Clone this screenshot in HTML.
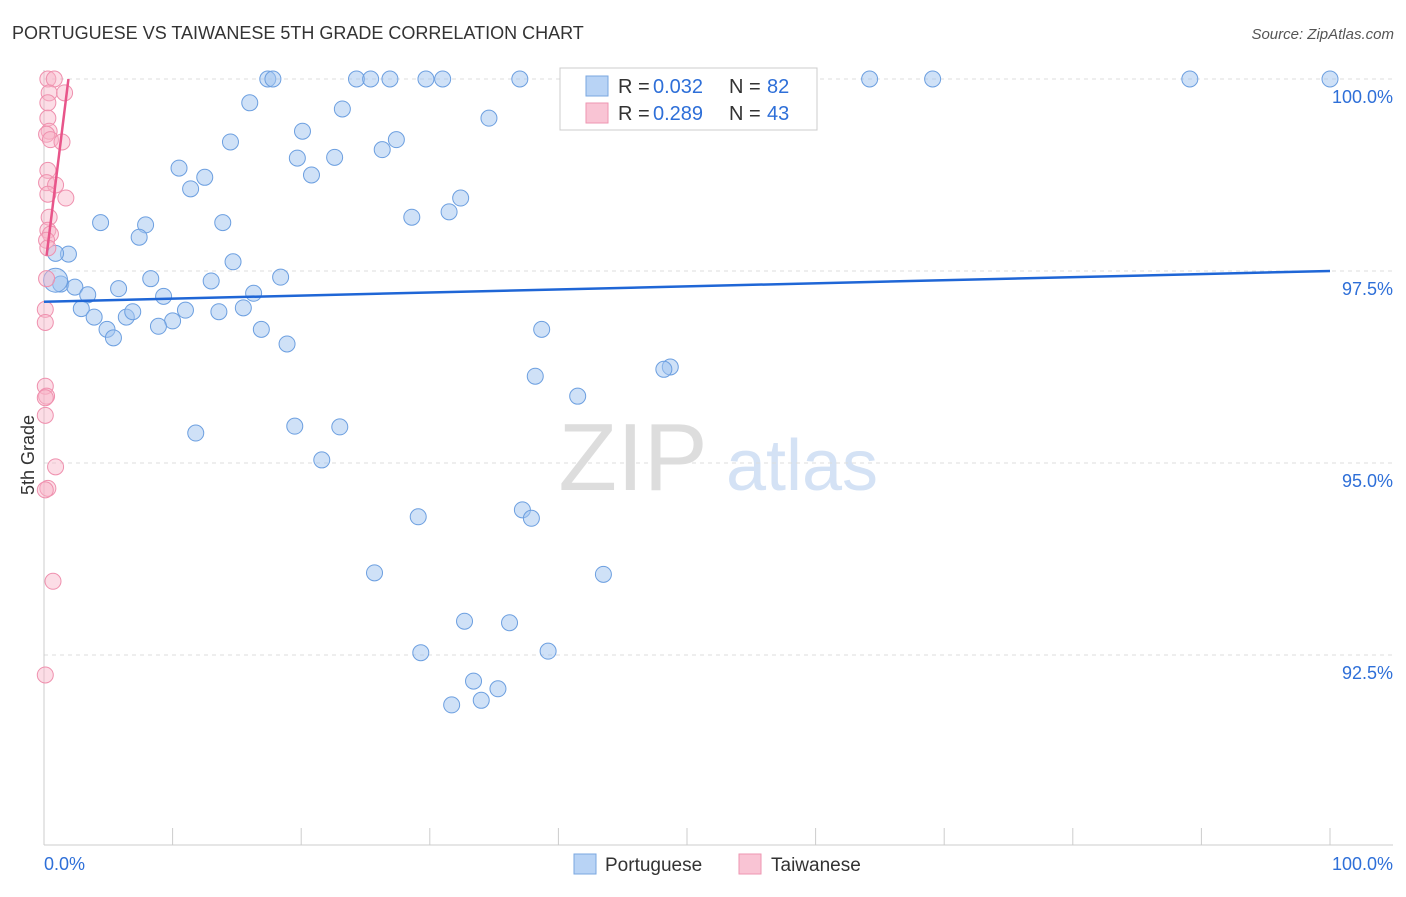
<!DOCTYPE html>
<html><head><meta charset="utf-8"><style>
body{margin:0;background:#fff;font-family:"Liberation Sans",sans-serif}
svg text{font-family:"Liberation Sans",sans-serif}
</style></head><body>
<svg id="c" width="1406" height="892" xmlns="http://www.w3.org/2000/svg">
<text x="12" y="39" font-size="18" fill="#333">PORTUGUESE VS TAIWANESE 5TH GRADE CORRELATION CHART</text>
<text x="1394" y="39" font-size="15" fill="#555" text-anchor="end" font-style="italic">Source: ZipAtlas.com</text>
<text x="34" y="455" font-size="18" fill="#333" text-anchor="middle" transform="rotate(-90 34 455)">5th Grade</text>
<g>
<text x="633" y="490" font-size="96" fill="#ddd" text-anchor="middle" font-family="Liberation Serif,serif">ZIP</text>
<text x="802" y="490" font-size="72" fill="#d4e2f5" text-anchor="middle">atlas</text>
</g>
<g id="grid"></g><g id="axes"></g><g id="marks"></g>
<g>
<rect x="560" y="68" width="257" height="62" fill="#fff" stroke="#ccc"/>
<rect x="586" y="76" width="22" height="20" fill="#b8d3f5" stroke="#7aa7e0"/>
<rect x="586" y="103" width="22" height="20" fill="#f9c4d4" stroke="#ee96b2"/>
<text x="618" y="93" font-size="20" fill="#333">R =</text>
<text x="653" y="93" font-size="20" fill="#2e6fd8">0.032</text>
<text x="729" y="93" font-size="20" fill="#333">N =</text>
<text x="767" y="93" font-size="20" fill="#2e6fd8">82</text>
<text x="618" y="120" font-size="20" fill="#333">R =</text>
<text x="653" y="120" font-size="20" fill="#2e6fd8">0.289</text>
<text x="729" y="120" font-size="20" fill="#333">N =</text>
<text x="767" y="120" font-size="20" fill="#2e6fd8">43</text>
</g>
<g>
<rect x="574" y="854" width="22" height="20" fill="#b8d3f5" stroke="#7aa7e0"/>
<text x="605" y="871" font-size="19" fill="#333">Portuguese</text>
<rect x="739" y="854" width="22" height="20" fill="#f9c4d4" stroke="#ee96b2"/>
<text x="771" y="871" font-size="19" fill="#333">Taiwanese</text>
</g>
</svg>
<script>
const yTicks=[100,97.5,95,92.5];
const yTickLabels=["100.0%","97.5%","95.0%","92.5%"];
const xTickVals=[0,10,20,30,40,50,60,70,80,90,100];
const blueX=[17.4,17.8,24.3,25.4,26.9,29.7,31.0,37.0,45.5,51.2,64.2,69.1,89.1,100,16.0,23.2,34.6,20.1,14.5,27.4,26.3,19.7,22.6,10.5,12.5,20.8,11.4,32.4,31.5,28.6,4.4,7.9,13.9,7.4,1.9,0.9,14.7,18.4,8.3,13.0,1.3,2.4,5.8,3.4,9.3,16.3,2.9,3.9,6.4,6.9,11.0,13.6,15.5,10.0,8.9,4.9,16.9,5.4,18.9,38.7,48.7,48.2,38.2,41.5,11.8,19.5,23.0,21.6,29.1,37.2,37.9,25.7,43.5,32.7,36.2,29.3,39.2,33.4,35.3,31.7,34.0,0.9];
const blueY=[100,100,100,100,100,100,100,100,100,100,100,100,100,100,99.69,99.61,99.49,99.32,99.18,99.21,99.08,98.97,98.98,98.84,98.72,98.75,98.57,98.45,98.27,98.20,98.13,98.10,98.13,97.94,97.72,97.73,97.62,97.42,97.40,97.37,97.33,97.29,97.27,97.19,97.17,97.21,97.01,96.90,96.90,96.97,96.99,96.97,97.02,96.85,96.78,96.74,96.74,96.63,96.55,96.74,96.25,96.22,96.13,95.87,95.39,95.48,95.47,95.04,94.30,94.39,94.28,93.57,93.55,92.94,92.92,92.53,92.55,92.16,92.06,91.85,91.91,97.38];
const pinkX=[0.3,0.8,0.4,1.6,0.3,0.3,0.4,0.2,0.5,1.4,0.3,0.2,0.9,0.3,1.7,0.4,0.3,0.5,0.2,0.3,0.2,0.1,0.1,0.1,0.2,0.1,0.1,0.9,0.3,0.1,0.7,0.1];
const pinkY=[100,100,99.82,99.82,99.69,99.49,99.32,99.28,99.21,99.18,98.81,98.65,98.62,98.5,98.45,98.2,98.03,97.98,97.9,97.8,97.4,97.0,96.83,96.0,95.87,95.85,95.62,94.95,94.67,94.65,93.46,92.24];
const blueTrend=[0,97.1,100,97.5];
const pinkTrend=[0.2,97.7,1.9,100];
const X=v=>44+v*12.86, Y=v=>79+(100-v)*76.8;
const NS="http://www.w3.org/2000/svg";
function mk(tag,attrs,parent){const e=document.createElementNS(NS,tag);for(const k in attrs)e.setAttribute(k,attrs[k]);document.getElementById(parent).appendChild(e);return e;}
yTicks.forEach((t,i)=>{
 const l=mk('line',{x1:44,x2:1393,y1:Y(t),y2:Y(t),stroke:'#ddd','stroke-dasharray':'4,4'},'grid');
 
 
 const tx=mk('text',{x:1393,y:Y(t)+24,'font-size':18,fill:'#2e6fd8','text-anchor':'end'},'grid');
 tx.textContent=yTickLabels[i];
 
 
});
const ax=mk('line',{x1:44,x2:1393,y1:845,y2:845,stroke:'#ccc'},'axes');


const ay=mk('line',{x1:44,x2:44,y1:70,y2:845,stroke:'#ccc'},'axes');


xTickVals.forEach(v=>{
 const t=mk('line',{x1:X(v),x2:X(v),y1:828,y2:845,stroke:'#ccc'},'axes');
 
 
});
[[0,"0.0%","start",44],[100,"100.0%","end",1393]].forEach(a=>{
 const t=mk('text',{x:a[3],y:870,'font-size':18,fill:'#2e6fd8','text-anchor':a[2]},'axes');
 t.textContent=a[1];
 
 
});
blueX.forEach((v,i)=>{
 const c=mk('circle',{cx:X(v),cy:Y(blueY[i]),r:i==blueX.length-1?12:8,fill:'rgba(160,196,240,0.5)',stroke:'#6c9fe0','stroke-width':1},'marks');
 
 
});
pinkX.forEach((v,i)=>{
 const c=mk('circle',{cx:X(v),cy:Y(pinkY[i]),r:8,fill:'rgba(248,180,200,0.45)',stroke:'#ef90ae','stroke-width':1},'marks');
 
 
});
const bl=mk('line',{x1:X(blueTrend[0]),y1:Y(blueTrend[1]),x2:X(blueTrend[2]),y2:Y(blueTrend[3]),stroke:'#1f66d6','stroke-width':2.5},'marks');


const pl=mk('line',{x1:X(pinkTrend[0]),y1:Y(pinkTrend[1]),x2:X(pinkTrend[2]),y2:Y(pinkTrend[3]),stroke:'#e8558a','stroke-width':2.5},'marks');


</script>
</body></html>
